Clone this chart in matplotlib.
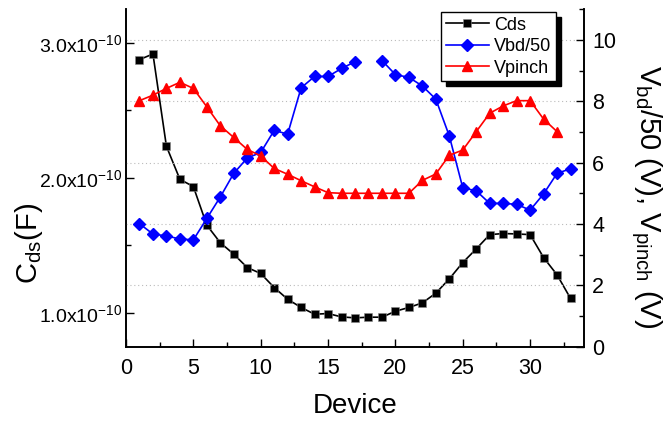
import numpy as np
import matplotlib
matplotlib.use('Agg')
import matplotlib.pyplot as plt
from matplotlib.ticker import MultipleLocator, FixedLocator, FuncFormatter

plt.rcParams['font.family'] = ['Liberation Sans', 'DejaVu Sans']
plt.rcParams['mathtext.fontset'] = 'custom'
plt.rcParams['mathtext.rm'] = 'Liberation Sans'
plt.rcParams['mathtext.it'] = 'Liberation Sans:italic'
plt.rcParams['mathtext.default'] = 'regular'

# data
device = list(range(1, 34))
cds = [2.877, 2.919, 2.235, 1.99, 1.936, 1.65, 1.52, 1.435, 1.336, 1.292,
       1.188, 1.101, 1.04, 0.99, 0.995, 0.97, 0.963, 0.968, 0.968, 1.012,
       1.04, 1.074, 1.146, 1.252, 1.373, 1.474, 1.58, 1.588, 1.585, 1.58,
       1.41, 1.282, 1.107]
cds = [c * 1e-10 for c in cds]
vbd50 = [4.01, 3.67, 3.61, 3.51, 3.48, 4.18, 4.88, 5.65, 6.15, 6.33,
         7.05, 6.93, 8.44, 8.81, 8.81, 9.07, 9.29, np.nan, 9.33, 8.87,
         8.78, 8.5, 8.07, 6.87, 5.18, 5.08, 4.67, 4.67, 4.64, 4.45,
         4.98, 5.65, 5.80]
dev_vp = list(range(1, 33))
vpinch = [8.02, 8.2, 8.42, 8.62, 8.42, 7.82, 7.2, 6.82, 6.43, 6.22,
          5.81, 5.62, 5.41, 5.21, 5.02, 5.0, 5.0, 5.0, 5.0, 5.0,
          5.0, 5.42, 5.63, 6.24, 6.41, 7.01, 7.61, 7.85, 8.02, 8.02,
          7.42, 7.01]

fig = plt.figure(figsize=(6.69, 4.23), dpi=100)
ax = fig.add_axes([126/669, 1 - 346.6/423, (584-126)/669, (346.6-9.3)/423])
ax2 = ax.twinx()

# grid follows right axis
for g in [2, 4, 6, 8, 10]:
    ax2.axhline(g, color='#bbbbbb', lw=0.8, ls=(0, (1, 2.5)), zorder=0)

l1, = ax.plot(device, cds, color='black', marker='s', ms=5.5, lw=1.2,
              mec='#888888', mew=0.4, label='Cds', zorder=3)
l2, = ax2.plot(device, vbd50, color='blue', marker='D', ms=6, lw=1.2,
               label='Vbd/50', zorder=3)
l3, = ax2.plot(dev_vp, vpinch, color='red', marker='^', ms=7, lw=1.2,
               label='Vpinch', zorder=3)

ax.set_xlim(0, 34)
ax.set_ylim(0.75e-10, 3.25e-10)
ax2.set_ylim(0, 11)

ax.xaxis.set_major_locator(MultipleLocator(5))
ax.xaxis.set_minor_locator(MultipleLocator(2.5))
ax.yaxis.set_major_locator(FixedLocator([1e-10, 2e-10, 3e-10]))
ax.yaxis.set_minor_locator(FixedLocator([1.5e-10, 2.5e-10]))
ax2.yaxis.set_major_locator(MultipleLocator(2))
ax2.yaxis.set_minor_locator(MultipleLocator(1))
ax.yaxis.set_major_formatter(FuncFormatter(
    lambda v, p: '%.1fx10$^{-10}$' % (v / 1e-10)))

for a in (ax, ax2):
    a.spines['top'].set_visible(False)
    for s in a.spines.values():
        s.set_linewidth(1.2)
    a.tick_params(which='both', direction='in', width=1.0, labelsize=15.5)
    a.tick_params(which='major', length=6)
    a.tick_params(which='minor', length=3.5)
ax.tick_params(axis='x', pad=8)
ax.tick_params(axis='y', labelsize=14, pad=3)
ax2.tick_params(axis='y', pad=6)

ax.set_xlabel('Device', fontsize=20, labelpad=10)
ax.set_ylabel('C$_{ds}$(F)', fontsize=21, va='center')
ax.yaxis.set_label_coords(-0.212, 0.307)
ax2.set_ylabel('V$_{bd}$/50 (V), V$_{pinch}$ (V)', fontsize=21,
               rotation=270, va='center')
ax2.yaxis.set_label_coords(1.135, 0.446)

leg = ax2.legend(handles=[l1, l2, l3], loc='upper left',
                 bbox_to_anchor=(441/669, 1 - 12/423),
                 bbox_transform=fig.transFigure, borderaxespad=0,
                 fontsize=13, handlelength=2.4, handletextpad=0.3,
                 labelspacing=0.25, borderpad=0.25, fancybox=False,
                 framealpha=1, edgecolor='black',
                 shadow={'ox': 3.5, 'oy': -3.5, 'color': 'black', 'alpha': 1})
leg.get_frame().set_linewidth(1.0)

fig.savefig('out.png', dpi=100)
